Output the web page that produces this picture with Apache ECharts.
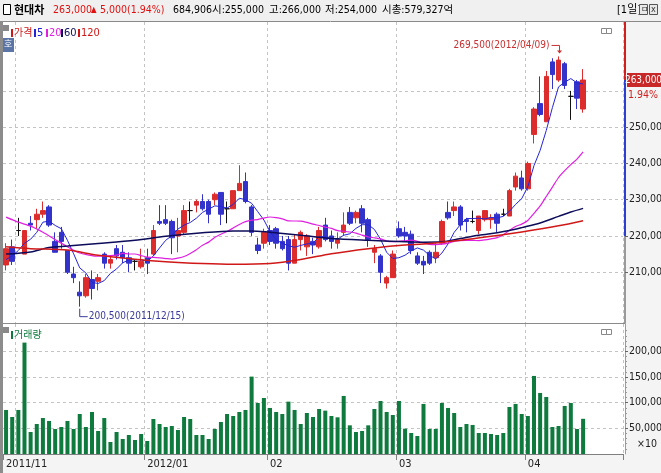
<!DOCTYPE html>
<html><head><meta charset="utf-8">
<script src="https://cdn.jsdelivr.net/npm/echarts@6/dist/echarts.min.js"></script>
<style>html,body{margin:0;padding:0;background:#fff}#c{width:661px;height:473px}</style>
</head><body><div id="c"></div>
<script>
// ---------------- data ----------------
const dates = [
'2011-11-29','2011-11-30',
'2011-12-01','2011-12-02','2011-12-05','2011-12-06','2011-12-07','2011-12-08','2011-12-09','2011-12-12','2011-12-13','2011-12-14','2011-12-15','2011-12-16','2011-12-19','2011-12-20','2011-12-21','2011-12-22','2011-12-23','2011-12-26','2011-12-27','2011-12-28','2011-12-29',
'2012-01-02','2012-01-03','2012-01-04','2012-01-05','2012-01-06','2012-01-09','2012-01-10','2012-01-11','2012-01-12','2012-01-13','2012-01-16','2012-01-17','2012-01-18','2012-01-19','2012-01-20','2012-01-25','2012-01-26','2012-01-27','2012-01-30','2012-01-31',
'2012-02-01','2012-02-02','2012-02-03','2012-02-06','2012-02-07','2012-02-08','2012-02-09','2012-02-10','2012-02-13','2012-02-14','2012-02-15','2012-02-16','2012-02-17','2012-02-20','2012-02-21','2012-02-22','2012-02-23','2012-02-24','2012-02-27','2012-02-28','2012-02-29',
'2012-03-02','2012-03-05','2012-03-06','2012-03-07','2012-03-08','2012-03-09','2012-03-12','2012-03-13','2012-03-14','2012-03-15','2012-03-16','2012-03-19','2012-03-20','2012-03-21','2012-03-22','2012-03-23','2012-03-26','2012-03-27','2012-03-28','2012-03-29','2012-03-30',
'2012-04-02','2012-04-03','2012-04-04','2012-04-05','2012-04-06','2012-04-09','2012-04-10','2012-04-12','2012-04-13','2012-04-16'];

const opens = [
212000,217000,221500,215000,223500,224500,226000,228000,218500,221000,
216000,209500,204500,203500,208000,207500,215000,212500,216500,215500,
214000,213000,211500,214000,215000,224000,224500,224000,220000,221000,
227000,228500,229500,229500,230000,232000,227500,227500,232500,235000,
228000,217500,218000,221500,222000,218500,219000,212500,219000,217000,
218500,217000,223000,220000,218000,221000,226500,225000,227500,224500,
215500,214500,207000,208500,222000,221000,220500,214500,213000,215500,
214000,218000,226500,227000,228000,224500,224000,221500,224500,224500,
226000,226000,225500,233500,236000,233000,248000,256500,251500,268000,
263000,267500,258500,262500,255000];
const closes = [
216500,213000,221500,221500,223000,226000,227000,223000,215500,218500,
210000,208500,203500,208500,205500,208500,212500,213500,214500,214000,
212500,213000,213000,212500,221500,223500,223500,219500,221500,227000,
227000,229500,227500,226000,231500,226000,227500,232500,234500,229500,
221000,216000,221000,218500,218000,216500,212500,219000,221000,220000,
217500,221500,219000,218500,219000,223000,223500,226500,223500,219000,
216500,210000,208500,215000,220000,220000,216000,212500,212000,212500,
215500,224000,225000,228000,223000,224000,224000,225500,227000,225000,
223500,226000,232500,236500,233000,240000,255000,253500,264000,264500,
268500,261500,258500,258000,263000];
const lows = [
210500,212000,220000,215000,221500,222000,225000,222500,215500,216500,
209500,207000,200500,203000,202500,205000,211000,211000,213500,212500,
210000,210500,211000,209500,214500,223000,223000,215000,215500,220500,
224000,226500,227000,223500,228500,223000,223500,227500,232500,229000,
220000,215000,216500,217500,216500,216000,210500,212500,216000,214500,
215000,216500,218500,216500,216500,220000,223000,223500,221000,217000,
212500,207000,205500,208500,219500,218500,215000,212000,209500,212000,
212500,217500,224500,225500,221500,221000,223500,220500,224000,222000,
221000,225500,225500,232500,232500,232500,245500,253000,251500,260500,
262500,260500,252000,255000,254000];
const highs = [
218000,219000,225000,221500,225500,227500,229500,228500,221000,222500,
216000,211500,207500,209500,210500,209500,215500,214500,217500,217500,
215500,213500,216500,216500,223000,228500,228500,224500,225000,228500,
229500,230000,231500,230000,232000,232000,229500,232500,239500,237500,
228500,219500,222000,223000,222500,220000,220000,220500,221500,220500,
219500,222500,225000,221500,221000,226500,228000,227000,228500,225000,
217500,215000,209000,216000,224000,222500,221500,215500,214500,216000,
218000,224500,229500,229500,228500,225000,227000,225500,227000,226000,
226500,227500,233000,237500,238000,240500,255500,264000,265500,269000,
269500,268000,260000,263000,266000];
// volume in units of 10 shares
const volumes = [
85700,72000,85700,216800,42800,58400,70000,64300,48700,52600,
64300,48700,77900,52600,81800,44800,70000,23400,42800,29200,
37000,27300,38900,25300,68100,58400,52600,54500,46700,72000,
68100,37000,37000,29200,48700,62300,77900,74000,81800,85700,
150600,99300,109000,89600,81800,77900,101900,85700,58400,79800,
72000,87600,84400,74000,71400,113000,55800,42800,44800,55800,
87600,103200,81800,75900,103200,49300,40900,35000,97400,48700,
48700,99300,89600,79800,52600,58400,56500,40900,40900,38900,
37000,40900,91500,97400,77900,74000,151900,118800,111000,52600,
54500,93500,99300,48700,68490.6];
// closes of the 4 sessions before the window (for the 5-day average)
const priorCloses = [208000,214000,211500,217500];
// moving averages: [session index, value]
const ma20Head = [[0,225200],[2,223800],[4,222700],[6,221000],[8,219000],[10,217000],[12,215300],[15,214400],[18,214700]];
const ma60Samples = [[0,215000],[4,215600],[7,216800],[10,217200],[15,217900],[21,218800],[26,219900],[32,220900],[37,221400],[40,221400],[43,221000],[48,220200],[53,219300],[59,218800],[64,218500],[68,218300],[71,218400],[74,219300],[77,220200],[80,220900],[82,221500],[84,222300],[87,223600],[90,225400],[92,226600],[94,227600]];
const ma120Samples = [[0,217000],[4,216500],[10,216100],[15,214700],[21,213600],[26,212900],[32,212400],[37,212200],[43,212400],[48,213500],[53,215100],[59,216500],[64,217400],[69,217900],[74,218800],[79,219900],[84,221100],[90,222800],[94,224200]];
const priceTicks = [210000,220000,230000,240000,250000,260000];
const volTicks = [50000,100000,150000,200000];
const axisRangeLow = 220000;
const headerVolume = 684906;
const marketCap = '579,327억';
const stockName = '현대차';

// ---------------- helpers ----------------
const N_PAD = 6;
const cats = dates.concat(Array.from({length:N_PAD},(_,k)=>'pad'+k));
const fmt = v => Math.round(v).toLocaleString('en-US');
const ym = i => (i < dates.length ? dates[i].slice(0,7) : null);
const isMonthStart = i => i>0 && i<dates.length && ym(i)!==ym(i-1);
const labelSet = new Set(); let lastShown=-100;
for (let i=0;i<dates.length;i++){ if(i===0 || (isMonthStart(i) && i-lastShown>=10)){labelSet.add(i); lastShown=i;} }
const xLabel = (v,i) => { const y=dates[i].slice(0,4), m=dates[i].slice(5,7); let prevY=null; for(const j of labelSet){ if(j<i) prevY=dates[j].slice(0,4);} return (prevY===null||prevY!==y)? y+'/'+m : m; };

const allC = priorCloses.concat(closes);
const ma5 = closes.map((_,i)=>{ const k=i+priorCloses.length; let s=0; for(let j=k-4;j<=k;j++) s+=allC[j]; return s/5; });
const ma20c = closes.map((_,i)=>{ if(i<19) return null; let s=0; for(let j=i-19;j<=i;j++) s+=closes[j]; return s/20; });
const ma20Data = ma20Head.map(([i,v])=>[dates[i],v]).concat(ma20c.map((v,i)=>v==null?null:[dates[i],v]).filter(Boolean));
const ohlc = dates.map((_,i)=>[opens[i],closes[i],lows[i],highs[i]]);

const last = closes.length-1;
const lastClose = closes[last], prevClose = closes[last-1];
const chg = lastClose-prevClose, pct = (chg/prevClose*100).toFixed(2)+'%';
let iMax=0,iMin=0; highs.forEach((v,i)=>{if(v>highs[iMax]) iMax=i;}); lows.forEach((v,i)=>{if(v<lows[iMin]) iMin=i;});

const Y0=196000, Y1=279000, V1=253000;
const NUM = '"Liberation Sans Narrow","Arial Narrow","DejaVu Sans Condensed","Noto Sans CJK KR",sans-serif';
const RED='#dd2c2c', BLUE='#3333cc';

const chart = echarts.init(document.getElementById('c'));
const fTop=(Y1-lastClose)/(Y1-Y0), fLow=(Y1-axisRangeLow)/(Y1-Y0);
const axisGrad = new echarts.graphic.LinearGradient(0,22,0,323,[
  {offset:0,color:'#d02020'},{offset:fTop,color:'#d02020'},{offset:fTop,color:'#2b3fd0'},
  {offset:fLow,color:'#2b3fd0'},{offset:fLow,color:'#9a9a9a'},{offset:1,color:'#9a9a9a'}],true);

const gridLine = {color:'#c4c4c4',type:[3,3],width:1};
const option = {
  animation:false,
  backgroundColor:'#ffffff',
  grid:[{left:3,right:38,top:22,height:301,outerBoundsMode:'none',containLabel:false},
        {left:3,right:38,top:324,height:130,outerBoundsMode:'none',containLabel:false}],
  xAxis:[
    {type:'category',gridIndex:0,data:cats,boundaryGap:true,axisLine:{show:false},axisTick:{show:false},axisLabel:{show:false},
     splitLine:{show:true,interval:(i)=>isMonthStart(i),lineStyle:gridLine}},
    {type:'category',gridIndex:1,data:cats,boundaryGap:true,
     axisLine:{show:true,lineStyle:{color:'#808080'}},
     axisTick:{show:true,interval:(i)=>labelSet.has(i),length:6,lineStyle:{color:'#808080'}},
     axisLabel:{interval:(i)=>labelSet.has(i),formatter:(v,i)=>xLabel(v,i),align:'left',color:'#222',fontSize:11,fontFamily:NUM,margin:5},
     splitLine:{show:true,interval:(i)=>isMonthStart(i),lineStyle:gridLine}}
  ],
  yAxis:[
    {type:'value',gridIndex:0,position:'right',min:Y0,max:Y1,offset:2,
     axisLine:{show:true,lineStyle:{width:2,color:axisGrad}},
     axisTick:{show:true,customValues:priceTicks.filter(v=>Math.abs(v-lastClose)>5000),length:3,lineStyle:{color:'#666'}},
     axisLabel:{customValues:priceTicks.filter(v=>Math.abs(v-lastClose)>5000),formatter:v=>fmt(v),color:'#222',fontSize:10.5,fontFamily:NUM,margin:4},
     splitLine:{show:false}},
    {type:'value',gridIndex:1,position:'right',min:0,max:V1,offset:2,
     axisLine:{show:true,lineStyle:{color:'#9a9a9a'}},
     axisTick:{show:true,customValues:volTicks,length:3,lineStyle:{color:'#666'}},
     minorTick:{show:true,splitNumber:5,length:2,lineStyle:{color:'#999'}},
     axisLabel:{customValues:volTicks,formatter:v=>fmt(v),color:'#222',fontSize:10.5,fontFamily:NUM,margin:4},
     splitLine:{show:false}}
  ],
  series:[
    {name:'가격',type:'candlestick',xAxisIndex:0,yAxisIndex:0,data:ohlc,barWidth:5,z:3,
     itemStyle:{color:RED,color0:BLUE,borderColor:RED,borderColor0:BLUE,borderColorDoji:'#111',borderWidth:1},
     markLine:{silent:true,symbol:'none',z:1,label:{show:false},lineStyle:gridLine,data:priceTicks.map(v=>({yAxis:v}))}},
    {name:'5',type:'line',xAxisIndex:0,yAxisIndex:0,data:ma5,showSymbol:false,lineStyle:{color:'#2424d8',width:1},z:4},
    {name:'20',type:'line',xAxisIndex:0,yAxisIndex:0,data:ma20Data,showSymbol:false,smooth:0.2,lineStyle:{color:'#e020e0',width:1.2},z:4},
    {name:'60',type:'line',xAxisIndex:0,yAxisIndex:0,data:ma60Samples.map(([i,v])=>[dates[i],v]),showSymbol:false,smooth:0.3,lineStyle:{color:'#0c0c5a',width:1.5},z:4},
    {name:'120',type:'line',xAxisIndex:0,yAxisIndex:0,data:ma120Samples.map(([i,v])=>[dates[i],v]),showSymbol:false,smooth:0.3,lineStyle:{color:'#d01818',width:1.5},z:4},
    {name:'거래량',type:'bar',xAxisIndex:1,yAxisIndex:1,data:volumes,barWidth:4,itemStyle:{color:'#0e7a3d'},z:3,
     markLine:{silent:true,symbol:'none',z:1,label:{show:false},lineStyle:gridLine,data:volTicks.map(v=>({yAxis:v}))}}
  ]
};
chart.setOption(option);

// ---------- decorations & annotations ----------
const pMax = chart.convertToPixel({seriesIndex:0},[dates[iMax],highs[iMax]]);
const pMin = chart.convertToPixel({seriesIndex:0},[dates[iMin],lows[iMin]]);
const pLast = chart.convertToPixel({yAxisIndex:0},lastClose);
const T = (x,y,text,fill,size,font,align) => ({type:'text',x:x,y:y,silent:true,z:100,style:{text:text,fill:fill,font:font||((size||11)+'px '+NUM),textVerticalAlign:'middle',textAlign:align||'left'}});
const R = (x,y,w,h,fill,stroke,z) => ({type:'rect',silent:true,z:(z==null?100:z),shape:{x:x,y:y,width:w,height:h},style:{fill:fill,stroke:stroke||null,lineWidth:1}});
const Lx = (pts,stroke,w) => ({type:'polyline',silent:true,z:100,shape:{points:pts},style:{stroke:stroke,lineWidth:w||1,fill:null}});
const d2 = s => s.replace(/-/g,'/');
const HF = '10.5px '+NUM;

const g = [
  R(0,0,661,21,'#f0f0f0',null,-1), Lx([[0,21.5],[661,21.5]],'#8a8a8a',1),
  R(626,22,35,451,'#f4f4f4',null,-1), R(0,455,661,18,'#f4f4f4',null,-1),
  R(0,21,3,452,'#8c8c8c'),
  Lx([[3,323.5],[625,323.5]],'#8a8a8a',1),
  R(3.5,4.5,7,10,'#fff','#000'),
  T(14,10,stockName,'#000',11,'bold 11px "Noto Sans CJK KR",sans-serif'),
  T(53,10,fmt(lastClose),'#e01010',11,HF),
  T(91,10,'▲','#e01010',8),
  T(100,10,fmt(chg),'#e01010',11,HF),
  T(127,10,'('+pct+')','#e01010',11,HF),
  T(173,10,fmt(headerVolume),'#000',11,HF),
  T(212,10,'시:'+fmt(opens[last]),'#000',11,HF),
  T(269,10,'고:'+fmt(highs[last]),'#000',11,HF),
  T(325,10,'저:'+fmt(lows[last]),'#000',11,HF),
  T(382,10,'시총:'+marketCap,'#000',11,HF),
  T(617,10,'[1일]','#000',11),
  R(639.5,4.5,8,10,'#e8e8e8','#555'), R(649.5,4.5,8,10,'#e8e8e8','#555'),
  T(641,10,'ㅁ','#333',8), T(651,10,'x','#333',9),
  // price legend
  R(3,25,6,6,'#888'),
  R(11,29,2,8,'#d01818'), T(14,33,'가격','#d01818',10),
  R(34,29,2,8,'#2424d8'), T(37,33,'5','#2424d8',11),
  R(46,29,2,8,'#e020e0'), T(49,33,'20','#e020e0',11),
  R(61,29,2,8,'#0c0c5a'), T(64,33,'60','#0c0c5a',11),
  R(78,29,2,8,'#d01818'), T(81,33,'120','#d01818',11),
  R(3,38,11,14,'#5b76a6'), T(4,45,'호','#fff',9),
  R(601.5,28.5,5,5,'#fff','#888'), R(606.5,28.5,5,5,'#fff','#888'),
  // current price tag on the axis
  R(627,pLast-7,34,14,'#c82828'),
  T(643.5,pLast,fmt(lastClose),'#fff',10,'10px '+NUM,'center'),
  T(658,pLast+15,pct,'#d02020',10.5,'10.5px '+NUM,'right'),
  // volume legend
  R(3,327,6,6,'#888'), R(11,331,2,8,'#0e7a3d'), T(14,335,'거래량','#0e7a3d',10),
  R(601.5,329.5,5,5,'#fff','#888'), R(606.5,329.5,5,5,'#fff','#888'),
  T(657,444,'×10','#222',10.5,'10.5px '+NUM,'right'),
  // max / min annotations
  T(pMax[0]-9,pMax[1]-11,fmt(highs[iMax])+'('+d2(dates[iMax])+')','#c83030',10,'10px '+NUM,'right'),
  Lx([[pMax[0]-7,pMax[1]-11],[pMax[0]+1,pMax[1]-11],[pMax[0]+1,pMax[1]-4]],'#c83030',1),
  {type:'polygon',silent:true,z:100,shape:{points:[[pMax[0]-1.5,pMax[1]-6],[pMax[0]+3.5,pMax[1]-6],[pMax[0]+1,pMax[1]-3]]},style:{fill:'#c83030'}},
  Lx([[pMin[0],pMin[1]+2],[pMin[0],pMin[1]+10],[pMin[0]+8,pMin[1]+10]],'#3a3a9a',1),
  T(pMin[0]+9,pMin[1]+10,fmt(lows[iMin])+'('+d2(dates[iMin])+')','#3a3a9a',10,'10px '+NUM)
];
chart.setOption({graphic:g});
</script></body></html>
